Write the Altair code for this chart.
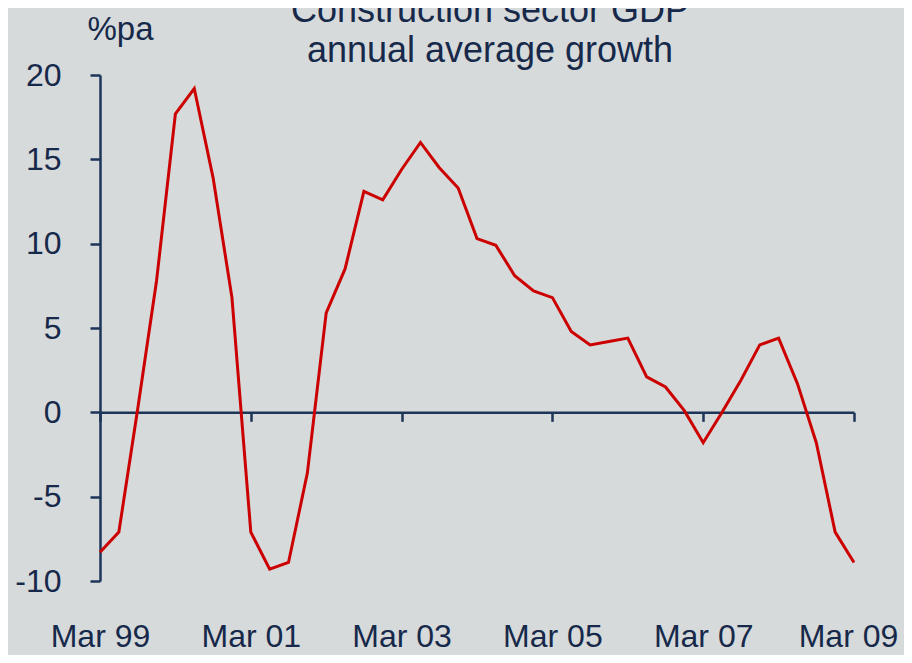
import altair as alt
import pandas as pd

# Quarterly, Mar 1999 .. Mar 2009 (41 quarters)
growth = [-8.3, -7.1, 0.2, 7.8, 17.7, 19.2, 13.9, 6.8, -7.1, -9.3,
          -8.9, -3.6, 5.9, 8.5, 13.1, 12.6, 14.4, 16.0, 14.5, 13.3,
          10.3, 9.9, 8.1, 7.2, 6.8, 4.8, 4.0, 4.2, 4.4, 2.1,
          1.5, 0.1, -1.8, 0.0, 1.9, 4.0, 4.4, 1.7, -1.8, -7.1,
          -8.9]
quarter_index = list(range(len(growth)))
tick_positions = [0, 8, 16, 24, 32, 40]
tick_labels = ["Mar 99", "Mar 01", "Mar 03", "Mar 05", "Mar 07", "Mar 09"]
y_ticks = [-10, -5, 0, 5, 10, 15, 20]
title_lines = ["Construction sector GDP", "annual average growth"]
y_unit = "%pa"

df = pd.DataFrame({"q": quarter_index, "growth": growth})

NAVY = "#16294a"
AXIS = "#1c3558"
FONT = "Liberation Sans"
PLOT_W, PLOT_H = 754, 506
Y_MIN, Y_MAX = -10, 20
zero_from_bottom = PLOT_H * (0 - Y_MIN) / (Y_MAX - Y_MIN)

label_lookup = "{" + ",".join(f"'{p}':'{l}'" for p, l in zip(tick_positions, tick_labels)) + "}"

chart = alt.Chart(df).mark_line(color="#cc0000", strokeWidth=3).encode(
    x=alt.X("q:Q",
            scale=alt.Scale(domain=[0, 40], nice=False, zero=False),
            axis=alt.Axis(values=tick_positions,
                          labelExpr=label_lookup + "[datum.value]",
                          offset=-zero_from_bottom,
                          title=None, grid=False,
                          domainColor=AXIS, domainWidth=2.5,
                          tickColor=AXIS, tickWidth=2.5, tickSize=9,
                          labelFont=FONT, labelFontSize=32, labelColor=NAVY,
                          labelBaseline="alphabetic", labelPadding=225,
                          labelOffset={"condition": {"test": f"datum.value == {tick_positions[-1]}", "value": -6}, "value": 0},
                          labelFlush=False, labelOverlap=False)),
    y=alt.Y("growth:Q",
            scale=alt.Scale(domain=[Y_MIN, Y_MAX], nice=False),
            axis=alt.Axis(values=y_ticks, title=y_unit, grid=False,
                          labelExpr="'' + datum.value",
                          titleAngle=0, titleX=20, titleY=-36,
                          titleAlign="center", titleBaseline="alphabetic",
                          titleFont=FONT, titleFontSize=33, titleFontWeight="normal",
                          titleColor=NAVY,
                          domainColor=AXIS, domainWidth=2.5,
                          tickColor=AXIS, tickWidth=2.5, tickSize=10,
                          labelFont=FONT, labelFontSize=32, labelColor=NAVY,
                          labelPadding=29)),
).properties(
    width=PLOT_W, height=PLOT_H,
    title=alt.TitleParams(text=title_lines, font=FONT, fontSize=36, fontWeight="normal",
                          color=NAVY, anchor="middle", dx=13, dy=89, lineHeight=40,
                          baseline="alphabetic"),
    autosize=alt.AutoSizeParams(type="none"),
    padding={"left": 92, "top": 67, "right": 50, "bottom": 74},
    background="#d6dada",
).configure_view(stroke=None)

chart.save("out.html", embed_options={"renderer": "svg", "actions": False})
